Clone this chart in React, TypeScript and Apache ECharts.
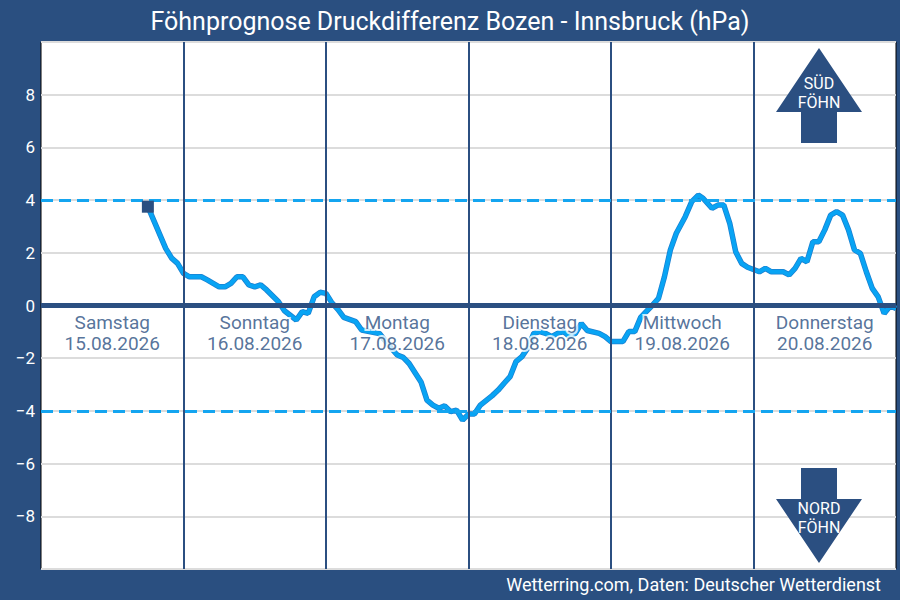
import React, { useEffect, useRef } from "react";
import * as echarts from "echarts";

// Forecast hours since Saturday 00:00 and pressure difference (hPa)
const hours = [
  18, 21, 22, 23, 24, 25, 27, 28, 30, 31, 32, 33, 34, 35, 36, 37, 38, 40, 41, 43,
  44, 45, 46, 47, 48, 49, 50, 51, 53, 54, 57, 59, 60, 61, 62, 64, 65, 66, 67, 68,
  69, 70, 71, 72, 73, 74, 76, 77, 78, 79, 80, 81, 82, 83, 84, 85, 86, 87, 88, 89,
  90, 91, 92, 94, 95, 96, 98, 99, 100, 101, 103, 104, 105, 106, 107, 108.5, 109.6, 110.7, 111.5, 113,
  114, 115, 116, 117, 118, 119, 121, 122, 123, 125, 126, 127, 128, 129, 130, 131, 132, 133, 134, 135,
  136, 137, 138, 139, 140, 141, 142, 143, 144,
];
const values = [
  3.75, 2.17, 1.8, 1.6, 1.22, 1.09, 1.09, 0.97, 0.71, 0.71, 0.84, 1.09, 1.09, 0.78, 0.71, 0.78, 0.59, 0.14, -0.2, -0.55,
  -0.23, -0.3, 0.33, 0.5, 0.46, 0.1, -0.15, -0.45, -0.61, -0.93, -1.06, -1.62, -1.88, -1.97, -2.2, -2.9, -3.59, -3.78, -3.9, -3.81,
  -4.03, -3.97, -4.35, -4.12, -4.12, -3.78, -3.42, -3.21, -2.95, -2.7, -2.13, -1.94, -1.6, -1.06, -0.99, -1.06, -1.18, -1.06, -0.99, -1.18,
  -1.06, -0.68, -0.95, -1.06, -1.18, -1.37, -1.37, -0.99, -0.99, -0.45, 0.02, 0.27, 1.09, 2.11, 2.74, 3.37, 3.94, 4.19, 4.07, 3.69,
  3.81, 3.81, 3.12, 2.04, 1.6, 1.45, 1.28, 1.41, 1.28, 1.28, 1.16, 1.41, 1.79, 1.66, 2.42, 2.42, 2.87, 3.43, 3.56, 3.43,
  2.87, 2.11, 1.98, 1.28, 0.65, 0.33, -0.3, -0.02, -0.11,
];

const dayNames = ["Samstag", "Sonntag", "Montag", "Dienstag", "Mittwoch", "Donnerstag"];
const dayDates = ["15.08.2026", "16.08.2026", "17.08.2026", "18.08.2026", "19.08.2026", "20.08.2026"];
const dayCenters = [12, 36, 60, 84, 108, 132];
const dayBoundaries = [24, 48, 72, 96, 120];
const thresholds = [4, -4];

const BG = "#2a4f80";
const DARK = "#2b4f81";
const FONT = "Roboto";

export default function App() {
  const ref = useRef<HTMLDivElement>(null);
  useEffect(() => {
    if (!ref.current) return;
    const chart = echarts.init(ref.current, null, { renderer: "svg" });
    const lineData = hours.map((h, i) => [h, values[i]]);
    chart.setOption({
      animation: false,
      backgroundColor: BG,
      textStyle: { fontFamily: FONT },
      title: {
        text: "Föhnprognose Druckdifferenz Bozen - Innsbruck (hPa)",
        left: "center",
        top: 4,
        textStyle: { color: "#fff", fontSize: 25, fontWeight: "normal", fontFamily: FONT },
      },
      grid: {
        left: 41,
        top: 42,
        right: 4,
        bottom: 31,
        show: true,
        backgroundColor: "#fff",
        borderColor: "#000",
        borderWidth: 1,
      },
      xAxis: {
        type: "value",
        min: 0,
        max: 144,
        interval: 24,
        axisLine: { show: false },
        axisTick: { show: false },
        axisLabel: { show: false },
        splitLine: { show: false },
      },
      yAxis: {
        type: "value",
        min: -10,
        max: 10,
        interval: 2,
        axisLine: { show: false },
        axisTick: { show: false },
        axisLabel: {
          color: "#fff",
          fontSize: 17,
          fontFamily: FONT,
          margin: 6,
          formatter: (v: number) => (v === 10 || v === -10 ? "" : String(v).replace("-", "\u2212")),
        },
        splitLine: { show: true, lineStyle: { color: "#dcdcdc", width: 2 } },
      },
      series: [
        {
          type: "line",
          data: [],
          z: 2,
          markLine: {
            silent: true,
            symbol: ["none", "none"],
            label: { show: false },
            data: [
              ...dayBoundaries.map((b) => ({ xAxis: b, lineStyle: { color: DARK, width: 2, type: "solid" } })),
              ...thresholds.map((t) => ({
                yAxis: t,
                lineStyle: { color: "#14a5f0", width: 3, type: [12, 6] },
              })),
              { yAxis: 0, lineStyle: { color: DARK, width: 5, type: "solid" } },
            ],
          },
        },
        {
          type: "line",
          data: lineData,
          z: 3,
          showSymbol: false,
          lineStyle: { color: "#1b80d0", width: 5.5 },
        },
        {
          type: "line",
          data: lineData,
          z: 4,
          showSymbol: false,
          lineStyle: { color: "#08a4f4", width: 4 },
        },
        {
          type: "scatter",
          z: 5,
          data: [[hours[0], values[0]]],
          symbol: "rect",
          symbolSize: 12,
          itemStyle: { color: DARK, opacity: 1 },
        },
        {
          type: "scatter",
          z: 6,
          symbolSize: 1,
          itemStyle: { color: "rgba(0,0,0,0)" },
          data: dayCenters.map((c, i) => ({ value: [c, -1.05], name: dayNames[i] + "\n" + dayDates[i] })),
          label: {
            show: true,
            position: "inside",
            formatter: "{b}",
            color: DARK,
            fontSize: 19,
            lineHeight: 21,
            fontFamily: FONT,
            textBorderColor: "#fff",
            textBorderWidth: 4,
            align: "center",
          },
        },
      ],
      graphic: [
        {
          type: "polygon",
          shape: {
            points: [
              [819, 48], [862, 112], [837, 112], [837, 143], [801, 143], [801, 112], [776, 112],
            ],
          },
          style: { fill: DARK },
          z: 10,
        },
        {
          type: "text",
          x: 819,
          y: 93,
          style: {
            text: "SÜD\nFÖHN",
            fill: "#fff",
            font: `16px ${FONT}`,
            lineHeight: 19,
            align: "center",
            verticalAlign: "middle",
          },
          z: 11,
        },
        {
          type: "polygon",
          shape: {
            points: [
              [801, 468], [837, 468], [837, 499], [862, 499], [819, 563], [776, 499], [801, 499],
            ],
          },
          style: { fill: DARK },
          z: 10,
        },
        {
          type: "text",
          x: 819,
          y: 518,
          style: {
            text: "NORD\nFÖHN",
            fill: "#fff",
            font: `16px ${FONT}`,
            lineHeight: 19,
            align: "center",
            verticalAlign: "middle",
          },
          z: 11,
        },
        {
          type: "text",
          x: 881,
          y: 584,
          style: {
            text: "Wetterring.com, Daten: Deutscher Wetterdienst",
            fill: "#fff",
            font: `18px ${FONT}`,
            align: "right",
            verticalAlign: "middle",
          },
          z: 11,
        },
      ],
    });
    return () => chart.dispose();
  }, []);
  return (
    <div
      ref={ref}
      style={{ position: "absolute", left: 0, top: 0, width: 900, height: 600 }}
    />
  );
}
